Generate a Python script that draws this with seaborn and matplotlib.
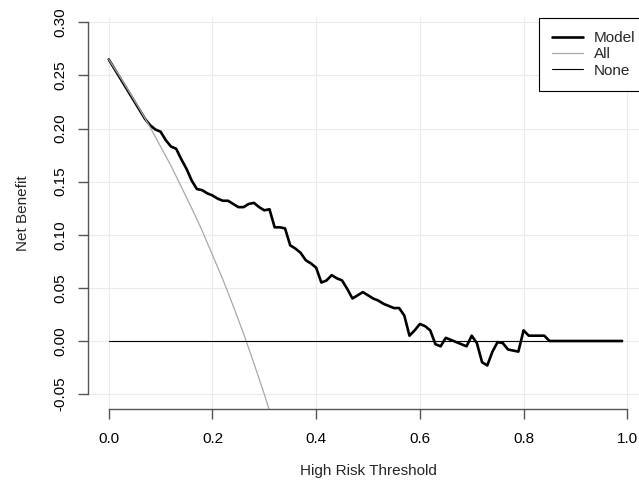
import matplotlib
matplotlib.use("Agg")
import matplotlib.pyplot as plt
import seaborn as sns

# ── Data ──────────────────────────────────────────────────────────────────────
model_thr = [0.00, 0.02, 0.04, 0.06, 0.07, 0.08, 0.09, 0.10, 0.11, 0.12,
             0.13, 0.14, 0.15, 0.16, 0.17, 0.18, 0.19, 0.20, 0.21, 0.22,
             0.23, 0.24, 0.25, 0.26, 0.27, 0.28, 0.29, 0.30, 0.31, 0.32,
             0.33, 0.34, 0.35, 0.36, 0.37, 0.38, 0.39, 0.40, 0.41, 0.42,
             0.43, 0.44, 0.45, 0.46, 0.47, 0.48, 0.49, 0.50, 0.51, 0.52,
             0.53, 0.54, 0.55, 0.56, 0.57, 0.58, 0.59, 0.60, 0.61, 0.62,
             0.63, 0.64, 0.65, 0.66, 0.67, 0.68, 0.69, 0.70, 0.71, 0.72,
             0.73, 0.74, 0.75, 0.76, 0.77, 0.78, 0.79, 0.80, 0.81, 0.82,
             0.83, 0.84, 0.85, 0.99]
model_nb = [0.265, 0.249, 0.233, 0.217, 0.209, 0.203, 0.199, 0.197, 0.189, 0.183,
            0.181, 0.171, 0.162, 0.151, 0.143, 0.142, 0.139, 0.137, 0.134, 0.132,
            0.132, 0.129, 0.126, 0.126, 0.129, 0.130, 0.126, 0.123, 0.124, 0.107,
            0.107, 0.106, 0.090, 0.087, 0.083, 0.076, 0.073, 0.069, 0.055, 0.057,
            0.062, 0.059, 0.057, 0.049, 0.040, 0.043, 0.046, 0.043, 0.040, 0.038,
            0.035, 0.033, 0.031, 0.031, 0.024, 0.005, 0.010, 0.016, 0.014, 0.010,
            -0.003, -0.005, 0.003, 0.001, -0.001, -0.003, -0.005, 0.005, -0.002, -0.020,
            -0.023, -0.010, -0.001, -0.002, -0.008, -0.009, -0.010, 0.010, 0.005, 0.005,
            0.005, 0.005, 0.000, 0.000]

all_thr = [0.00, 0.02, 0.04, 0.06, 0.08, 0.10, 0.12, 0.14, 0.16, 0.18,
           0.20, 0.22, 0.24, 0.26, 0.28, 0.30, 0.32]
all_nb = [0.265, 0.250, 0.234, 0.218, 0.201, 0.183, 0.165, 0.145, 0.125, 0.104,
          0.081, 0.058, 0.033, 0.007, -0.021, -0.050, -0.081]

none_thr = [0.00, 0.99]
none_nb = [0.0, 0.0]

series_labels = ["Model", "All", "None"]
x_ticks = [0.0, 0.2, 0.4, 0.6, 0.8, 1.0]
x_tick_labels = ["0.0", "0.2", "0.4", "0.6", "0.8", "1.0"]
y_ticks = [-0.05, 0.00, 0.05, 0.10, 0.15, 0.20, 0.25, 0.30]
y_tick_labels = ["-0.05", "0.00", "0.05", "0.10", "0.15", "0.20", "0.25", "0.30"]

# ── Style ─────────────────────────────────────────────────────────────────────
sns.set_style("whitegrid")
plt.rcParams["font.family"] = ["Liberation Sans", "DejaVu Sans"]
plt.rcParams["axes.unicode_minus"] = False
FS = 11

fig = plt.figure(figsize=(6.39, 4.83), dpi=100)
# plot region runs past the right edge of the canvas, like the reference
ax = fig.add_axes([88 / 639, 74 / 483, 560 / 639, 391 / 483])

sns.lineplot(x=model_thr, y=model_nb, ax=ax, color="black", lw=1.9,
             sort=False, estimator=None, label=series_labels[0])
sns.lineplot(x=all_thr, y=all_nb, ax=ax, color="#a8a8a8", lw=0.9,
             sort=False, estimator=None, label=series_labels[1])
sns.lineplot(x=none_thr, y=none_nb, ax=ax, color="black", lw=0.8,
             sort=False, estimator=None, label=series_labels[2])

ax.set_xlim(-0.04, 1.04)
ax.set_ylim(-0.064, 0.304)
ax.set_xticks(x_ticks)
ax.set_xticklabels(x_tick_labels, fontsize=FS)
ax.set_yticks(y_ticks)
ax.set_yticklabels(y_tick_labels, fontsize=FS, rotation=90, va="center")

ax.grid(True, color="#ebebeb", lw=0.8)
ax.set_axisbelow(True)

for side in ["top", "right"]:
    ax.spines[side].set_visible(False)
ax.spines["left"].set_bounds(-0.05, 0.30)
ax.spines["bottom"].set_bounds(0.0, 1.0)
for side in ["left", "bottom"]:
    ax.spines[side].set_color("#555555")
    ax.spines[side].set_linewidth(1.0)
ax.tick_params(axis="both", which="major", direction="out", length=7.5,
               width=1.0, color="#555555", labelcolor="black", left=True, bottom=True)
ax.tick_params(axis="x", pad=9)
ax.tick_params(axis="y", pad=7)

ax.set_xlabel("High Risk Threshold", fontsize=FS)
ax.set_ylabel("Net Benefit", fontsize=FS)
ax.xaxis.set_label_coords(0.5, -0.158)
ax.xaxis.label.set_va("center")
ax.yaxis.set_label_coords(-0.116, 0.5)
ax.yaxis.label.set_va("center")

leg = ax.legend(loc="upper right", borderaxespad=0, fontsize=FS, fancybox=False,
                frameon=True, borderpad=0.85, labelspacing=0.15, handlelength=2.0,
                handletextpad=0.7)
leg.get_frame().set_edgecolor("black")
leg.get_frame().set_linewidth(0.8)
leg.get_frame().set_alpha(1)

fig.savefig("out.png", dpi=100)
